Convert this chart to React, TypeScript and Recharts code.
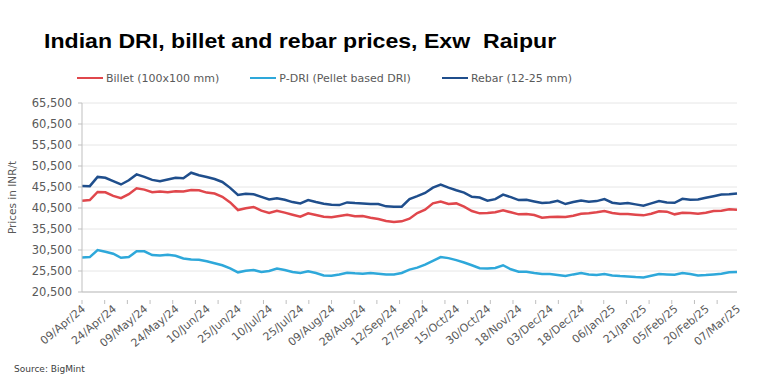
import React from 'react';
import { LineChart, Line, XAxis, YAxis, CartesianGrid, Label } from 'recharts';

// x-axis date labels, one every 4 points
const dateLabels = [
  '09/Apr/24', '24/Apr/24', '09/May/24', '24/May/24', '10/Jun/24', '25/Jun/24',
  '10/Jul/24', '25/Jul/24', '09/Aug/24', '28/Aug/24', '12/Sep/24', '27/Sep/24',
  '15/Oct/24', '30/Oct/24', '18/Nov/24', '03/Dec/24', '18/Dec/24', '06/Jan/25',
  '21/Jan/25', '05/Feb/25', '20/Feb/25', '07/Mar/25',
];

const yTicks = [20500, 25500, 30500, 35500, 40500, 45500, 50500, 55500, 60500, 65500];

// INR/t
const billet = [
  42220, 42380, 44330, 44250, 43390, 42840, 43780, 45190, 44880, 44250,
  44410, 44250, 44480, 44410, 44800, 44720, 44170, 43940, 43160, 41830,
  40020, 40420, 40740, 39860, 39310, 39860, 39390, 38910, 38440, 39230,
  38830, 38440, 38280, 38590, 38910, 38520, 38590, 38200, 37880, 37400,
  37170, 37320, 37960, 39310, 40100, 41600, 42060, 41440, 41600, 40810,
  39790, 39230, 39310, 39470, 39940, 39470, 38990, 39070, 38830, 38200,
  38360, 38440, 38360, 38670, 39150, 39230, 39470, 39790, 39310, 39070,
  39070, 38910, 38750, 39150, 39710, 39630, 38990, 39390, 39310, 39150,
  39390, 39790, 39870, 40180, 40100,
];

const pdri = [
  28730, 28810, 30500, 30100, 29610, 28650, 28810, 30180, 30180, 29290,
  29210, 29370, 29130, 28480, 28240, 28160, 27840, 27360, 26870, 26150,
  25180, 25580, 25740, 25260, 25500, 26070, 25740, 25260, 25020, 25420,
  25020, 24450, 24370, 24690, 25100, 24940, 24860, 25020, 24860, 24690,
  24690, 25020, 25820, 26310, 27030, 27920, 28810, 28570, 28080, 27520,
  26870, 26150, 26070, 26230, 26870, 25900, 25340, 25340, 25020, 24770,
  24770, 24530, 24290, 24690, 25020, 24690, 24530, 24770, 24450, 24290,
  24210, 24050, 23970, 24370, 24770, 24690, 24610, 25020, 24770, 24450,
  24530, 24690, 24860, 25180, 25260,
];

const rebar = [
  45740, 45700, 47900, 47700, 46900, 46100, 47100, 48500, 47900, 47200,
  46900, 47300, 47700, 47600, 48900, 48300, 47900, 47400, 46700, 45300,
  43600, 43900, 43780, 43160, 42530, 42840, 42450, 41910, 41600, 42380,
  41910, 41520, 41280, 41200, 41830, 41670, 41600, 41440, 41440, 40890,
  40810, 40810, 42610, 43310, 44090, 45340, 46050, 45340, 44720, 44170,
  43160, 43000, 42220, 42610, 43700, 43080, 42380, 42450, 42060, 41670,
  41830, 42220, 41440, 41910, 42300, 41990, 42140, 42610, 41750, 41520,
  41670, 41360, 41050, 41600, 42140, 41830, 41750, 42690, 42450, 42530,
  42920, 43310, 43700, 43780, 43940,
];

const series = [
  { key: 'billet', name: 'Billet (100x100 mm)', color: '#E0474C' },
  { key: 'pdri', name: 'P-DRI (Pellet based DRI)', color: '#2EA8DA' },
  { key: 'rebar', name: 'Rebar (12-25 mm)', color: '#1F4E8C' },
];

const data = billet.map((b, i) => ({ i, billet: b, pdri: pdri[i], rebar: rebar[i] }));

const lastIdx = data.length - 1;
const labelTicks = dateLabels.map((_, k) => k * 4);
// excel puts small tick marks every 8 trading days, labels every 11
const markTicks: number[] = [];
for (let t = 0; t <= lastIdx; t += 8 / 2.75) markTicks.push(Number(t.toFixed(3)));
const allTicks = Array.from(new Set([...labelTicks, ...markTicks])).sort((a, b) => a - b);

const FONT = '"DejaVu Sans", sans-serif';
const GREY = '#595959';
const AXIS = '#BFBFBF';

const DateTick = (props: any) => {
  const { x, y, payload } = props;
  const v = payload.value;
  const isLabel = labelTicks.includes(v);
  const isMark = markTicks.includes(v);
  return (
    <g>
      {isMark && <line x1={x} y1={y} x2={x} y2={y + 4} stroke={AXIS} strokeWidth={1} />}
      {isLabel && (
        <text
          x={x + 4}
          y={y + 10}
          transform={`rotate(-40, ${x + 4}, ${y + 10})`}
          textAnchor="end"
          fontSize={11}
          fontFamily={FONT}
          fill={GREY}
        >
          {dateLabels[v / 4]}
        </text>
      )}
    </g>
  );
};

export default function App() {
  return (
    <div style={{ position: 'absolute', left: 0, top: 0, width: 777, height: 382, background: '#fff', fontFamily: FONT }}>
      <div
        style={{
          position: 'absolute', left: 44, top: 30, lineHeight: '21px', fontSize: 21,
          fontWeight: 'bold', fontFamily: '"Liberation Sans", Arial, sans-serif', color: '#000', whiteSpace: 'pre',
          transform: 'scaleX(1.1)', transformOrigin: 'left center',
        }}
      >
        Indian DRI, billet and rebar prices, Exw  Raipur
      </div>

      <div style={{ position: 'absolute', top: 71, left: 77, display: 'flex', fontSize: 11, color: GREY }}>
        {series.map((s, k) => (
          <div key={s.key} style={{ display: 'flex', alignItems: 'center', marginRight: k < 2 ? 31 : 0, height: 14 }}>
            <div style={{ width: 26, height: 2.5, background: s.color, marginRight: 3 }} />
            <span>{s.name}</span>
          </div>
        ))}
      </div>

      <LineChart width={777} height={382} data={data} margin={{ top: 103, right: 40, bottom: 0, left: 0 }}>
        <CartesianGrid vertical={false} stroke="#E6E6E6" />
        <XAxis
          dataKey="i"
          type="number"
          domain={[0, lastIdx]}
          ticks={allTicks}
          interval={0}
          tick={<DateTick />}
          tickLine={false}
          axisLine={{ stroke: AXIS }}
          height={90}
        />
        <YAxis
          domain={[20500, 65500]}
          ticks={yTicks}
          interval={0}
          width={82}
          tickSize={4}
          tickMargin={6}
          tickLine={{ stroke: AXIS }}
          axisLine={{ stroke: AXIS }}
          tick={{ fontSize: 11.5, fill: GREY, fontFamily: FONT }}
          tickFormatter={(v: number) => v.toLocaleString('en-US')}
        >
          <Label
            value="Prices in INR/t"
            angle={-90}
            position="insideLeft"
            offset={12}
            style={{ textAnchor: 'middle', fontSize: 10.5, fill: GREY, fontFamily: FONT }}
          />
        </YAxis>
        {series.map((s) => (
          <Line
            key={s.key}
            type="linear"
            dataKey={s.key}
            name={s.name}
            stroke={s.color}
            strokeWidth={2.5}
            dot={false}
            isAnimationActive={false}
          />
        ))}
      </LineChart>

      <div style={{ position: 'absolute', left: 14, top: 364, fontSize: 9, color: '#404040' }}>Source: BigMint</div>
    </div>
  );
}
